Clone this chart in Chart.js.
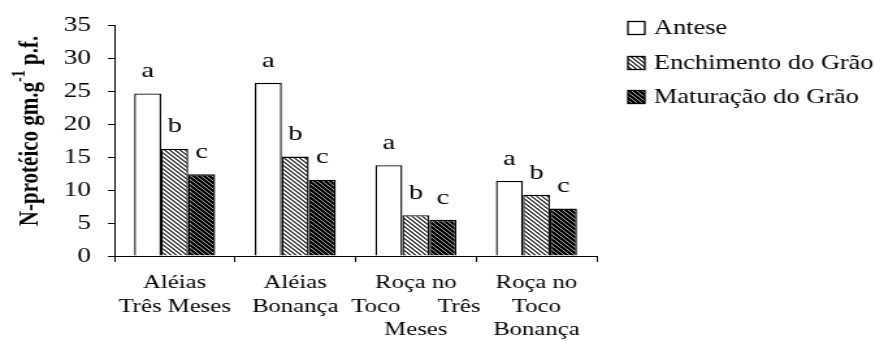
<!DOCTYPE html>
<html>
<head>
<meta charset="utf-8">
<script src="https://cdn.jsdelivr.net/npm/chart.js@4.4.1/dist/chart.umd.min.js"></script>
<style>
html,body{margin:0;padding:0;background:#fff;overflow:hidden;}
#wrap{width:672px;height:341px;transform:scaleX(1.3);transform-origin:0 0;}
</style>
</head>
<body>
<div id="wrap"><canvas id="c" width="672" height="341"></canvas></div>
<script>
const categories = [["Aléias","Três Meses"],["Aléias","Bonança"],["Roça no","Toco      Três","Meses"],["Roça no","Toco","Bonança"]];
const seriesNames = ["Antese","Enchimento do Grão","Maturação do Grão"];
const antese = [24.7, 26.3, 13.8, 11.4];
const enchimento = [16.3, 15.1, 6.2, 9.3];
const maturacao = [12.4, 11.6, 5.5, 7.2];
const letters = ["a","b","c"];
const yTitle = ["N-protéico gm.g","-1"," p.f."];

function makePattern(dark, light, darkCount){
  const t = document.createElement('canvas');
  t.width = 4; t.height = 4;
  const cx = t.getContext('2d');
  for(let y=0;y<4;y++){
    for(let x=0;x<4;x++){
      const m = ((x - y) % 4 + 4) % 4;
      cx.fillStyle = m < darkCount ? dark : light;
      cx.fillRect(x,y,1,1);
    }
  }
  return document.getElementById('c').getContext('2d').createPattern(t,'repeat');
}
const fills = ['#ffffff', makePattern('#4a4a4a','#ffffff',2), makePattern('#000000','#a8a8a8',3)];

const serif = "'Liberation Serif','Times New Roman',serif";

const lettersPlugin = {
  id:'letters',
  afterDatasetsDraw(chart){
    const ctx = chart.ctx;
    ctx.save();
    ctx.font = "22px " + serif;
    ctx.fillStyle = '#000';
    ctx.textAlign = 'center';
    ctx.textBaseline = 'middle';
    chart.data.datasets.forEach((ds,i)=>{
      chart.getDatasetMeta(i).data.forEach(bar=>{
        ctx.fillText(letters[i], bar.x, bar.y - 22);
      });
    });
    ctx.restore();
  }
};

const legendPlugin = {
  id:'customLegend',
  afterDraw(chart){
    const ctx = chart.ctx;
    ctx.save();
    const ys = [28, 63, 97];
    ctx.font = "20.3px " + serif;
    ctx.textBaseline = 'middle';
    ctx.textAlign = 'left';
    seriesNames.forEach((n,i)=>{
      const bx = 483, by = ys[i]-6.5;
      ctx.fillStyle = fills[i];
      ctx.fillRect(bx,by,13,13);
      ctx.strokeStyle = '#000';
      ctx.lineWidth = 1.3;
      ctx.strokeRect(bx,by,13,13);
      ctx.fillStyle = '#000';
      ctx.fillText(n, 503, ys[i]+1);
    });
    ctx.restore();
  }
};

const titlePlugin = {
  id:'yTitle',
  afterDraw(chart){
    const ctx = chart.ctx;
    ctx.save();
    ctx.translate(23, 131);
    ctx.rotate(-Math.PI/2);
    const fMain = "bold 21px " + serif, fSup = "bold 14px " + serif;
    ctx.font = fMain; const w1 = ctx.measureText(yTitle[0]).width, w3 = ctx.measureText(yTitle[2]).width;
    ctx.font = fSup; const w2 = ctx.measureText(yTitle[1]).width;
    let x = -(w1+w2+w3)/2;
    ctx.fillStyle = '#000';
    ctx.textBaseline = 'middle';
    ctx.textAlign = 'left';
    ctx.font = fMain; ctx.fillText(yTitle[0], x, 1); x += w1;
    ctx.font = fSup; ctx.fillText(yTitle[1], x, -8); x += w2;
    ctx.font = fMain; ctx.fillText(yTitle[2], x, 1);
    ctx.restore();
  }
};

new Chart(document.getElementById('c'), {
  type:'bar',
  data:{
    labels: categories,
    datasets:[
      {label:seriesNames[0], data:antese, backgroundColor:fills[0], borderColor:'#000', borderWidth:1.4},
      {label:seriesNames[1], data:enchimento, backgroundColor:fills[1], borderColor:'#000', borderWidth:1.4},
      {label:seriesNames[2], data:maturacao, backgroundColor:fills[2], borderColor:'#000', borderWidth:1.4}
    ]
  },
  options:{
    responsive:false,
    animation:false,
    devicePixelRatio:1,
    layout:{padding:{left:0,right:213,top:20,bottom:0}},
    plugins:{legend:{display:false}, tooltip:{enabled:false}},
    datasets:{bar:{categoryPercentage:0.672, barPercentage:1}},
    scales:{
      x:{
        grid:{display:true, offset:true, drawOnChartArea:false, drawTicks:true, tickLength:6, color:'#000', lineWidth:1},
        border:{display:true, color:'#000', width:1},
        ticks:{color:'#000', font:{family:serif, size:19, lineHeight:1.25}, padding:9, maxRotation:0, autoSkip:false},
        afterFit(s){ s.height = 85; }
      },
      y:{
        min:0, max:35,
        grid:{display:true, drawOnChartArea:false, drawTicks:true, tickLength:5, color:'#000', lineWidth:1},
        border:{display:true, color:'#000', width:1},
        ticks:{stepSize:5, color:'#000', font:{family:serif, size:21}, padding:13},
        afterFit(s){ s.width = 88; }
      }
    }
  },
  plugins:[lettersPlugin, legendPlugin, titlePlugin]
});
</script>
</body>
</html>
